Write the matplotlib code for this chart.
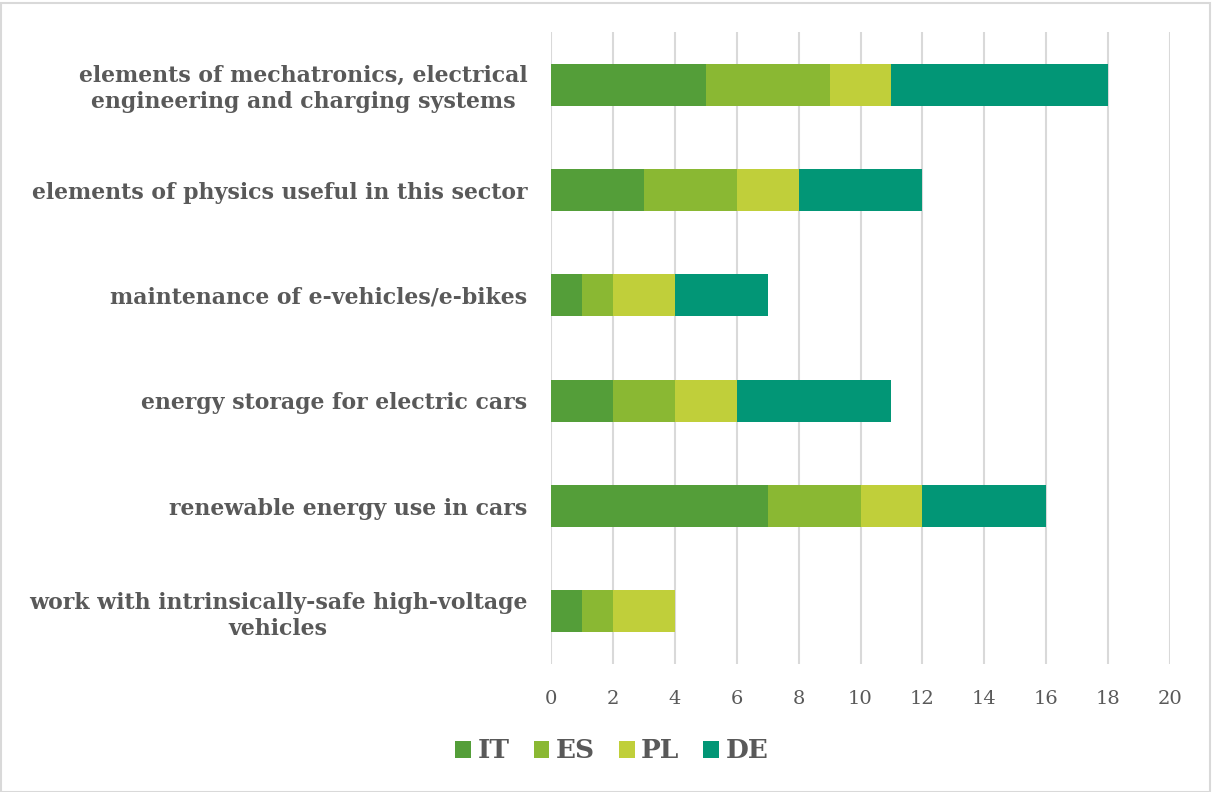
import matplotlib.pyplot as plt
from matplotlib.patches import Rectangle

categories = [
    "elements of mechatronics, electrical\nengineering and charging systems",
    "elements of physics useful in this sector",
    "maintenance of e-vehicles/e-bikes",
    "energy storage for electric cars",
    "renewable energy use in cars",
    "work with intrinsically-safe high-voltage\nvehicles",
]
series_names = ["IT", "ES", "PL", "DE"]
it_vals = [5, 3, 1, 2, 7, 1]
es_vals = [4, 3, 1, 2, 3, 1]
pl_vals = [2, 2, 2, 2, 2, 2]
de_vals = [7, 4, 3, 5, 4, 0]
colors = ["#549E39", "#8AB833", "#C0CF3A", "#029676"]
x_ticks = [0, 2, 4, 6, 8, 10, 12, 14, 16, 18, 20]

text_color = "#595959"
plt.rcParams["font.family"] = ["DejaVu Serif"]

fig = plt.figure(figsize=(12.12, 7.92), dpi=100)
ax = fig.add_axes([551 / 1212, 1 - 664 / 792, (1170 - 551) / 1212, (664 - 32) / 792])

pos = list(range(len(categories)))
left = [0] * len(categories)
for name, vals, col in zip(series_names, [it_vals, es_vals, pl_vals, de_vals], colors):
    ax.barh(pos, vals, left=left, height=0.4, color=col, label=name, zorder=3)
    left = [a + b for a, b in zip(left, vals)]

ax.set_xlim(0, 20)
ax.set_ylim(len(categories) - 0.5, -0.5)
ax.set_xticks(x_ticks)
ax.set_xticklabels([str(t) for t in x_ticks], fontsize=14, color=text_color)
ax.set_yticks(pos)
ax.set_yticklabels(categories, fontsize=15.8, fontweight="bold", color=text_color,
                   ha="right", multialignment="center", linespacing=1.25)
ax.tick_params(axis="y", length=0, pad=17)
ax.tick_params(axis="x", length=0, pad=19)

ax.grid(axis="x", color="#D9D9D9", linewidth=1.5, zorder=0)
for s in ax.spines.values():
    s.set_visible(False)

leg = fig.legend(loc="center", bbox_to_anchor=(612 / 1212, 1 - 751 / 792), ncol=4,
                 frameon=False, prop={"size": 19, "weight": "bold"},
                 handlelength=0.6, handleheight=0.6, handletextpad=0.25, columnspacing=0.9)
for t in leg.get_texts():
    t.set_color(text_color)

fig.patches.append(Rectangle((1 / 1212, 0), 1209 / 1212, 1 - 3 / 792, transform=fig.transFigure,
                             fill=False, edgecolor="#D9D9D9", linewidth=1.5))

fig.savefig("out.png", dpi=100)
